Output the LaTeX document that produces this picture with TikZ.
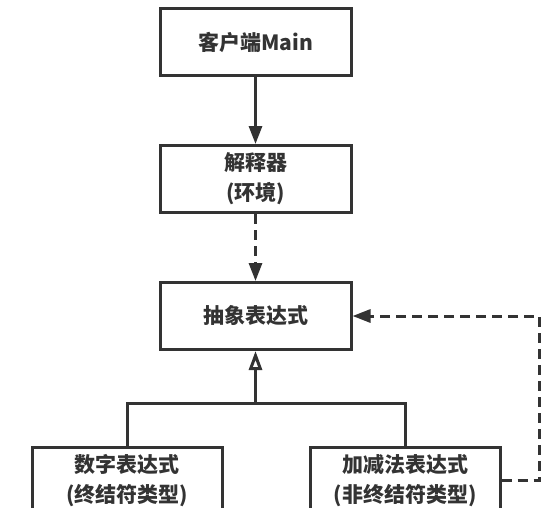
\documentclass[tikz,border=0pt]{standalone}
\usepackage{fontspec}
\setmainfont{Noto Sans CJK SC}
\usepackage{xcolor}
\usetikzlibrary{arrows.meta, positioning}
\definecolor{linegray}{HTML}{333333}

\begin{document}
\begin{tikzpicture}[
    node distance=67pt,
    every node/.style={text=linegray, font=\fontsize{21}{30}\selectfont\bfseries},
    box/.style={draw=linegray, line width=3pt, minimum width=191pt,
        minimum height=67pt, align=center, inner sep=0pt},
    link/.style={draw=linegray, line width=3pt},
    dashlink/.style={link, dash pattern=on 10pt off 6pt}]
    \useasboundingbox (0,0) rectangle (543pt,-507pt);
    \clip (0,0) rectangle (543pt,-507pt);

    \node[box] (client) at (255.5pt,-42pt) {客户端Main};
    \node[box, below=of client] (interp) {解释器\\(环境)};
    \node[box, below=of interp] (abstract) {抽象表达式};
    \node[box, minimum width=190pt] (number) at (127pt,-480.5pt) {数字表达式\\(终结符类型)};
    \node[box, minimum width=190pt] (addsub) at (405pt,-480.5pt) {加减法表达式\\(非终结符类型)};
    \coordinate[below=52pt of abstract.south] (join);
    \coordinate[right=38pt of addsub.east] (turn);

    \draw[link, -{Triangle[length=18pt,width=13pt]}] (client) -- (interp);
    \draw[dashlink, -{Triangle[length=18pt,width=13pt]}] (interp) -- (abstract);
    \draw[link] (number.north) |- (join) -| (addsub.north);
    \draw[link, -{Triangle[open,length=19pt,width=13pt,fill=white]}] (join) -- (abstract.south);
    \draw[dashlink, -{Triangle[length=18pt,width=13pt]}] (addsub.east) -- (turn) |- (abstract.east);
\end{tikzpicture}
\end{document}
